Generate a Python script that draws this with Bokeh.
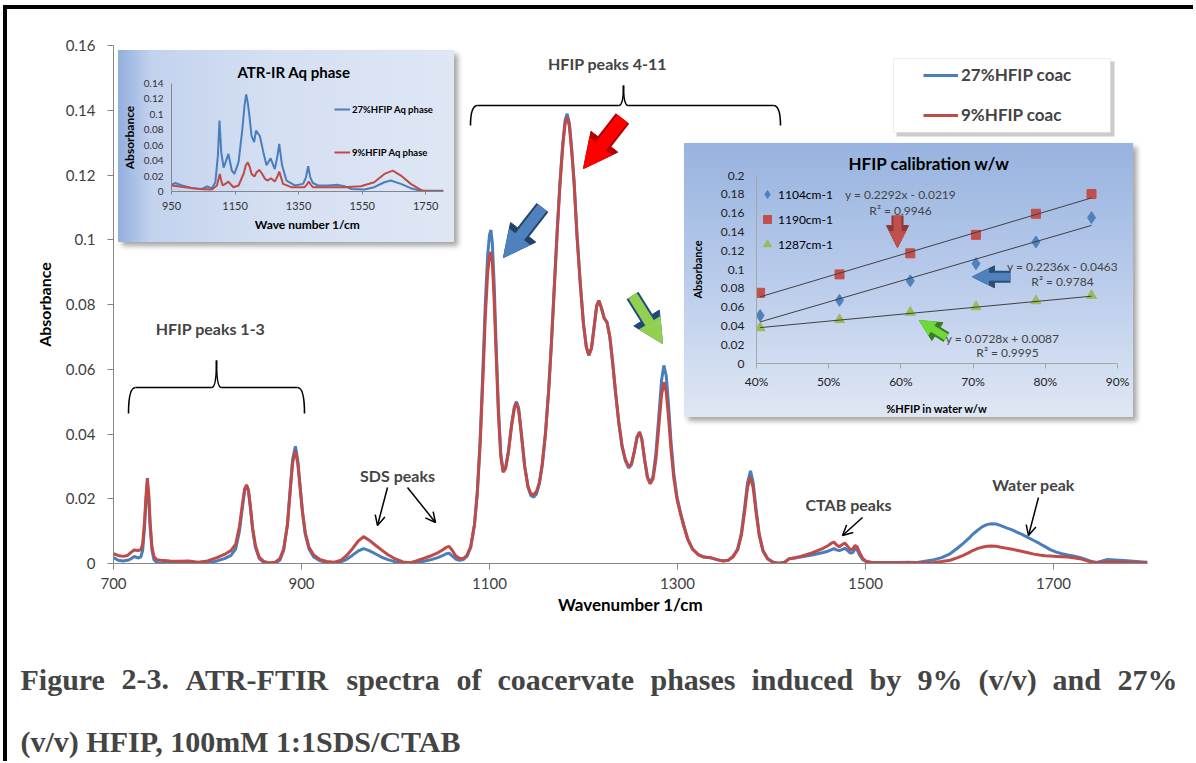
from bokeh.plotting import figure
from bokeh.models import (Range1d, FixedTicker, CustomJSTickFormatter, Legend, LegendItem,
                          Label, Arrow, NormalHead, OpenHead, BoxAnnotation, Div)
from bokeh.embed import file_html
from bokeh.resources import INLINE

FONT = "Lato"
SERIF = "Liberation Serif"

# ---------------- main spectra (coacervate phases) ----------------
wavenumber = [700, 705, 710, 715, 719, 722, 726, 729, 731, 733, 734.5, 736, 737.5, 739, 741, 743, 746, 750,
              760, 770, 780, 790, 800, 810, 818, 825, 830, 834, 837, 839.5, 841.5, 843.5, 845.5, 848, 851,
              855, 860, 866, 872, 877, 881, 885, 888, 890.5, 893.5, 896, 898.5, 901, 904, 908, 913, 920,
              927, 935, 942, 948, 954, 960, 966, 972, 978, 985, 992, 1000, 1008, 1015, 1022, 1030, 1038,
              1045, 1050, 1054, 1057, 1060, 1064, 1068, 1072, 1076, 1080, 1084, 1087, 1090, 1093, 1095.5,
              1098, 1100, 1101.5, 1103, 1105, 1107, 1109.5, 1112, 1114.5, 1117, 1120, 1123.5, 1126.5,
              1128.7, 1131, 1134, 1137.5, 1141, 1144, 1147, 1150, 1153, 1156, 1159.5, 1163, 1166, 1169,
              1172, 1175, 1178, 1180.5, 1182.6, 1185, 1187.5, 1190, 1193, 1196.5, 1200, 1203, 1205.7,
              1208.5, 1211.5, 1214, 1216.3, 1219, 1222, 1225, 1228, 1231, 1234, 1237.5, 1241, 1244.5,
              1248, 1251, 1254, 1257, 1259.6, 1262, 1265, 1268, 1271, 1274, 1277, 1280, 1283, 1285.5,
              1288, 1290.5, 1293, 1296, 1299.5, 1303, 1307, 1311, 1316, 1322, 1328, 1335, 1342, 1348,
              1354, 1359, 1364, 1368, 1371.5, 1374.5, 1377.7, 1380.5, 1383.5, 1387, 1391, 1396, 1402,
              1408, 1414, 1419, 1425, 1431, 1437, 1443, 1449, 1455, 1460, 1464, 1466.5, 1469, 1472,
              1475, 1478, 1481, 1484, 1486.5, 1489, 1491, 1494, 1497, 1501, 1506, 1515, 1525, 1535,
              1545, 1555, 1565, 1573, 1581, 1590, 1598, 1604, 1609, 1614, 1619, 1624, 1629, 1634, 1639,
              1644, 1650, 1656, 1661, 1667, 1673, 1679, 1685, 1691, 1697, 1703, 1709, 1715, 1721, 1728,
              1735, 1741, 1746, 1751, 1757, 1765, 1775, 1785, 1795, 1800]

abs_27_coac = [0.0018, 0.0010, 0.0008, 0.0010, 0.0015, 0.0022, 0.0017, 0.0020, 0.0040, 0.0110, 0.0190,
               0.0250, 0.0200, 0.0110, 0.0040, 0.0012, 0.0003, 0.0001, 0.0000, 0.0001, 0.0000, 0.0000,
               0.0002, 0.0008, 0.0015, 0.0025, 0.0045, 0.0100, 0.0170, 0.0225, 0.0240, 0.0225, 0.0175,
               0.0105, 0.0050, 0.0015, 0.0003, 0.0000, 0.0002, 0.0010, 0.0040, 0.0120, 0.0230, 0.0320,
               0.0362, 0.0320, 0.0240, 0.0160, 0.0090, 0.0045, 0.0020, 0.0008, 0.0003, 0.0002, 0.0005,
               0.0013, 0.0025, 0.0038, 0.0046, 0.0040, 0.0031, 0.0020, 0.0012, 0.0005, 0.0001, 0.0000,
               0.0003, 0.0007, 0.0012, 0.0018, 0.0024, 0.0030, 0.0032, 0.0024, 0.0014, 0.0010, 0.0012,
               0.0022, 0.0050, 0.0120, 0.0220, 0.0380, 0.0600, 0.0800, 0.0950, 0.1015, 0.1030, 0.0990,
               0.0860, 0.0680, 0.0480, 0.0340, 0.0285, 0.0295, 0.0345, 0.0430, 0.0485, 0.0500, 0.0480,
               0.0400, 0.0300, 0.0235, 0.0210, 0.0205, 0.0215, 0.0245, 0.0300, 0.0400, 0.0540, 0.0690,
               0.0860, 0.1030, 0.1180, 0.1300, 0.1370, 0.1389, 0.1360, 0.1280, 0.1180, 0.1020, 0.0870,
               0.0740, 0.0670, 0.0643, 0.0665, 0.0735, 0.0795, 0.0812, 0.0790, 0.0758, 0.0745, 0.0700,
               0.0620, 0.0530, 0.0435, 0.0360, 0.0318, 0.0295, 0.0305, 0.0345, 0.0390, 0.0406, 0.0385,
               0.0320, 0.0265, 0.0248, 0.0270, 0.0340, 0.0450, 0.0565, 0.0612, 0.0580, 0.0490, 0.0380,
               0.0280, 0.0205, 0.0160, 0.0115, 0.0075, 0.0045, 0.0028, 0.0020, 0.0018, 0.0012, 0.0008,
               0.0010, 0.0022, 0.0045, 0.0095, 0.0175, 0.0250, 0.0286, 0.0250, 0.0170, 0.0090, 0.0040,
               0.0015, 0.0004, 0.0001, 0.0004, 0.0015, 0.0017, 0.0020, 0.0023, 0.0026, 0.0030, 0.0034,
               0.0038, 0.0043, 0.0046, 0.0042, 0.0040, 0.0043, 0.0047, 0.0040, 0.0032, 0.0034, 0.0045,
               0.0042, 0.0025, 0.0012, 0.0006, 0.0004, 0.0003, 0.0003, 0.0003, 0.0004, 0.0003, 0.0008,
               0.0012, 0.0018, 0.0030, 0.0048, 0.0062, 0.0075, 0.0090, 0.0102, 0.0113, 0.0120, 0.0123,
               0.0122, 0.0117, 0.0110, 0.0104, 0.0097, 0.0089, 0.0080, 0.0071, 0.0062, 0.0052, 0.0042,
               0.0035, 0.0030, 0.0026, 0.0023, 0.0019, 0.0012, 0.0006, 0.0003, 0.0007, 0.0012, 0.0011,
               0.0009, 0.0007, 0.0005, 0.0004]

abs_9_coac = [0.0030, 0.0025, 0.0022, 0.0025, 0.0035, 0.0042, 0.0040, 0.0042, 0.0060, 0.0130, 0.0205,
              0.0264, 0.0215, 0.0125, 0.0050, 0.0022, 0.0012, 0.0010, 0.0008, 0.0007, 0.0008, 0.0004,
              0.0008, 0.0018, 0.0028, 0.0040, 0.0060, 0.0115, 0.0180, 0.0230, 0.0243, 0.0228, 0.0180,
              0.0110, 0.0055, 0.0020, 0.0006, 0.0002, 0.0004, 0.0015, 0.0045, 0.0118, 0.0225, 0.0310,
              0.0349, 0.0310, 0.0235, 0.0160, 0.0095, 0.0050, 0.0026, 0.0012, 0.0006, 0.0004, 0.0010,
              0.0025, 0.0045, 0.0068, 0.0083, 0.0072, 0.0058, 0.0042, 0.0027, 0.0014, 0.0005, 0.0002,
              0.0008, 0.0016, 0.0024, 0.0033, 0.0042, 0.0050, 0.0053, 0.0042, 0.0024, 0.0016, 0.0015,
              0.0025, 0.0052, 0.0120, 0.0215, 0.0365, 0.0570, 0.0760, 0.0895, 0.0950, 0.0962, 0.0930,
              0.0810, 0.0650, 0.0460, 0.0330, 0.0282, 0.0292, 0.0340, 0.0425, 0.0480, 0.0496, 0.0475,
              0.0395, 0.0298, 0.0238, 0.0215, 0.0213, 0.0222, 0.0250, 0.0305, 0.0400, 0.0535, 0.0685,
              0.0855, 0.1020, 0.1170, 0.1290, 0.1360, 0.1379, 0.1350, 0.1270, 0.1175, 0.1015, 0.0865,
              0.0738, 0.0668, 0.0643, 0.0665, 0.0735, 0.0795, 0.0812, 0.0790, 0.0758, 0.0745, 0.0700,
              0.0622, 0.0532, 0.0438, 0.0365, 0.0322, 0.0299, 0.0308, 0.0345, 0.0390, 0.0406, 0.0385,
              0.0322, 0.0268, 0.0246, 0.0262, 0.0320, 0.0420, 0.0520, 0.0560, 0.0530, 0.0450, 0.0355,
              0.0265, 0.0198, 0.0155, 0.0112, 0.0074, 0.0044, 0.0027, 0.0020, 0.0018, 0.0012, 0.0008,
              0.0010, 0.0020, 0.0042, 0.0088, 0.0162, 0.0235, 0.0267, 0.0234, 0.0160, 0.0085, 0.0038,
              0.0014, 0.0003, 0.0000, 0.0004, 0.0015, 0.0018, 0.0022, 0.0027, 0.0033, 0.0040, 0.0047,
              0.0055, 0.0063, 0.0066, 0.0058, 0.0052, 0.0058, 0.0063, 0.0053, 0.0042, 0.0045, 0.0056,
              0.0052, 0.0032, 0.0016, 0.0006, 0.0003, 0.0002, 0.0002, 0.0002, 0.0002, 0.0002, 0.0002,
              0.0003, 0.0006, 0.0010, 0.0018, 0.0025, 0.0032, 0.0040, 0.0046, 0.0050, 0.0053, 0.0054,
              0.0053, 0.0050, 0.0047, 0.0044, 0.0041, 0.0037, 0.0033, 0.0029, 0.0026, 0.0024, 0.0023,
              0.0022, 0.0021, 0.0020, 0.0018, 0.0015, 0.0009, 0.0004, 0.0003, 0.0003, 0.0005, 0.0005,
              0.0004, 0.0003, 0.0002, 0.0002]

main_x_ticks = [700, 900, 1100, 1300, 1500, 1700]
main_y_ticks = [0, 0.02, 0.04, 0.06, 0.08, 0.1, 0.12, 0.14, 0.16]
series_labels = ["27%HFIP coac", "9%HFIP coac"]

# ---------------- inset 1: aqueous phase ----------------
aq_wn_27 = [950, 962, 983, 1015, 1046, 1062, 1077, 1088, 1096, 1101, 1106.5, 1114, 1122, 1129, 1140,
            1148, 1161, 1173, 1180, 1185, 1190, 1194, 1202, 1210, 1216, 1228, 1239, 1249, 1262, 1275,
            1283, 1289, 1298, 1312, 1338, 1364, 1373, 1380, 1387, 1395, 1411, 1442, 1474, 1494, 1515,
            1557, 1588, 1620, 1640, 1672, 1703, 1734, 1766, 1806]
aq_abs_27 = [0.0085, 0.011, 0.0078, 0.0043, 0.0034, 0.0065, 0.004, 0.012, 0.0465, 0.092, 0.051, 0.031,
             0.040, 0.0487, 0.027, 0.0228, 0.038, 0.081, 0.112, 0.126, 0.115, 0.1025, 0.072, 0.064,
             0.079, 0.072, 0.051, 0.034, 0.043, 0.029, 0.045, 0.0616, 0.034, 0.014, 0.0078, 0.0099,
             0.018, 0.0327, 0.018, 0.011, 0.0078, 0.0078, 0.0086, 0.0069, 0.0034, 0.0026, 0.0056,
             0.012, 0.0142, 0.0099, 0.0043, 0.0009, 0.0009, 0.0009]
aq_wn_9 = [950, 994, 1036, 1077, 1093, 1098, 1102, 1106, 1111, 1122, 1129, 1137, 1145, 1161, 1177, 1184,
           1190, 1196, 1202, 1211, 1218, 1226, 1235, 1244, 1253, 1263, 1275, 1283, 1289, 1295, 1301,
           1327, 1369, 1376, 1382, 1388, 1395, 1442, 1494, 1546, 1588, 1620, 1646, 1672, 1703, 1740,
           1766, 1806]
aq_abs_9 = [0.0078, 0.0056, 0.0034, 0.0026, 0.0078, 0.016, 0.0228, 0.015, 0.0078, 0.0105, 0.0129, 0.009,
            0.0056, 0.0078, 0.023, 0.034, 0.0379, 0.032, 0.0228, 0.0194, 0.025, 0.028, 0.023, 0.0164,
            0.0142, 0.0172, 0.0129, 0.019, 0.0258, 0.018, 0.0099, 0.0056, 0.0056, 0.009, 0.0129, 0.009,
            0.0056, 0.0056, 0.0056, 0.0069, 0.012, 0.0228, 0.027, 0.0207, 0.0099, 0.0009, 0.0, 0.0]
aq_labels = ["27%HFIP Aq phase", "9%HFIP Aq phase"]
aq_x_ticks = [950, 1150, 1350, 1550, 1750]
aq_y_ticks = [0, 0.02, 0.04, 0.06, 0.08, 0.1, 0.12, 0.14]

# ---------------- inset 2: calibration ----------------
hfip_frac = [0.405, 0.515, 0.613, 0.704, 0.787, 0.864]
cal_1104 = [0.051, 0.0672, 0.0879, 0.1062, 0.1293, 0.1552]
cal_1190 = [0.0752, 0.0948, 0.1172, 0.1369, 0.1593, 0.1803]
cal_1287 = [0.0379, 0.0466, 0.0545, 0.0603, 0.0666, 0.0724]
cal_labels = ["1104cm-1", "1190cm-1", "1287cm-1"]
fit_slope = [0.2236, 0.2292, 0.0728]
fit_intercept = [-0.0463, -0.0219, 0.0087]
fit_r2 = [0.9784, 0.9946, 0.9995]
cal_x_ticks = [0.4, 0.5, 0.6, 0.7, 0.8, 0.9]
cal_y_ticks = [0, 0.02, 0.04, 0.06, 0.08, 0.1, 0.12, 0.14, 0.16, 0.18, 0.2]

caption_line1 = ["Figure", "2-3.", "ATR-FTIR", "spectra", "of", "coacervate", "phases", "induced",
                 "by", "9%", "(v/v)", "and", "27%"]
caption_line2 = "(v/v) HFIP, 100mM 1:1SDS/CTAB"

BLUE = "#4A7EBB"
RED = "#BE4B48"
GREEN = "#9BBB59"
AXIS_GRAY = "#868686"


def num_fmt():
    return CustomJSTickFormatter(code="return Number(tick.toFixed(4)).toString();")


def style_axis(ax, size, color="#404040"):
    ax.axis_line_color = AXIS_GRAY
    ax.major_tick_line_color = AXIS_GRAY
    ax.minor_tick_line_color = None
    ax.major_tick_in = 0
    ax.major_label_text_font = FONT
    ax.major_label_text_font_size = size
    ax.major_label_text_color = color
    ax.axis_label_text_font = FONT
    ax.axis_label_text_font_style = "bold"
    ax.axis_label_text_color = "black"


def block_arrow(fig, xs, ys, xe, ye, fill, outline, shaft, head):
    fig.add_layout(Arrow(end=NormalHead(size=head + 6, fill_color=outline, line_color=outline),
                         x_start=xs, y_start=ys, x_end=xe, y_end=ye,
                         line_color=outline, line_width=shaft + 4))
    fig.add_layout(Arrow(end=NormalHead(size=head, fill_color=fill, line_color=fill),
                         x_start=xs, y_start=ys, x_end=xe, y_end=ye,
                         line_color=fill, line_width=shaft))


# ================= main figure =================
p = figure(width=1196, height=763, x_range=Range1d(700, 1800), y_range=Range1d(0, 0.16),
           output_backend="svg", toolbar_location=None,
           min_border_left=113, min_border_right=49, min_border_top=45, min_border_bottom=200)
p.styles = {"position": "absolute", "left": "0px", "top": "0px", "margin": "0px"}
p.outline_line_color = None
p.xgrid.grid_line_color = None
p.ygrid.grid_line_color = None
p.background_fill_color = "white"
p.border_fill_color = "white"

xa = p.xaxis[0]
style_axis(xa, "15px")
xa.ticker = FixedTicker(ticks=main_x_ticks)
xa.major_tick_out = 6
xa.major_label_standoff = 8
xa.axis_label = "Wavenumber 1/cm"
xa.axis_label_text_font_size = "17px"
xa.axis_label_standoff = 2

ya = p.yaxis[0]
style_axis(ya, "15px")
ya.ticker = FixedTicker(ticks=main_y_ticks)
ya.formatter = num_fmt()
ya.major_tick_out = 6
ya.major_label_standoff = 12
ya.axis_label = "Absorbance"
ya.axis_label_text_font_size = "16px"
ya.axis_label_standoff = 9

r27 = p.line(wavenumber, abs_27_coac, line_color=BLUE, line_width=3)
r9 = p.line(wavenumber, abs_9_coac, line_color=RED, line_width=3)


def mx(px):
    return 700 + (px - 113) * 1100 / 1034


def my(py):
    return (563 - py) * 0.16 / 518


# legend box with shadow
p.add_layout(BoxAnnotation(left=mx(896), right=mx(1114), top=my(61), bottom=my(136),
                           fill_color="#b5b5b5", fill_alpha=0.7, line_color=None))
p.add_layout(BoxAnnotation(left=mx(893), right=mx(1110), top=my(58), bottom=my(132),
                           fill_color="white", fill_alpha=1, line_color="#c8c8c8", line_width=1))
legend = Legend(items=[LegendItem(label=series_labels[0], renderers=[r27]),
                       LegendItem(label=series_labels[1], renderers=[r9])],
                location=(810, 438), padding=0, margin=0, spacing=19,
                glyph_width=35, glyph_height=20, label_height=20, label_standoff=3,
                label_text_font=FONT, label_text_font_style="bold", label_text_font_size="17px",
                border_line_color=None, background_fill_alpha=0)
p.add_layout(legend)


# braces
def brace(fig, x0, xm, x1, yb, yh, yt, re, rm):
    kw = dict(line_color="black", line_width=1.6)
    fig.quadratic(x0=[x0], y0=[yb], x1=[x0 + re], y1=[yh], cx=[x0], cy=[yh], **kw)
    fig.segment(x0=[x0 + re], y0=[yh], x1=[xm - rm], y1=[yh], **kw)
    fig.quadratic(x0=[xm - rm], y0=[yh], x1=[xm], y1=[yt], cx=[xm], cy=[yh], **kw)
    fig.quadratic(x0=[xm], y0=[yt], x1=[xm + rm], y1=[yh], cx=[xm], cy=[yh], **kw)
    fig.segment(x0=[xm + rm], y0=[yh], x1=[x1 - re], y1=[yh], **kw)
    fig.quadratic(x0=[x1 - re], y0=[yh], x1=[x1], y1=[yb], cx=[x1], cy=[yh], **kw)


brace(p, mx(128), mx(216), mx(304), my(413), my(387), my(360), 7.5, 5)
brace(p, mx(470), mx(623), mx(780), my(125), my(105), my(85), 7.5, 5)

# text annotations
for txt, px, py in [("HFIP peaks 1-3", 210, 328), ("HFIP peaks 4-11", 607, 63),
                    ("SDS peaks", 397, 475), ("CTAB peaks", 848, 504), ("Water peak", 1033, 484)]:
    p.add_layout(Label(x=mx(px), y=my(py), text=txt, text_font=FONT, text_font_style="bold",
                       text_font_size="16px", text_align="center", text_baseline="middle"))

# thin arrows
for (sx, sy, ex, ey) in [(387, 487, 377, 525), (407, 487, 435, 522), (862, 517, 842, 535),
                         (1038, 497, 1028, 535)]:
    p.add_layout(Arrow(end=OpenHead(size=10, line_width=1.5, line_color="black"),
                       x_start=mx(sx), y_start=my(sy), x_end=mx(ex), y_end=my(ey),
                       line_color="black", line_width=1.5))

block_arrow(p, mx(622), my(118), mx(583), my(168), "#FF0000", "#B00000", 13, 28)
block_arrow(p, mx(542), my(207), mx(503), my(257), "#4F81BD", "#22406A", 11, 26)
block_arrow(p, mx(632), my(295), mx(662), my(343), "#92D050", "#1F497D", 10, 24)

# ================= caption (own transparent canvas) =================
cap = figure(width=1196, height=120, x_range=Range1d(0, 1196), y_range=Range1d(0, 120),
             x_axis_type=None, y_axis_type=None, output_backend="svg", toolbar_location=None,
             min_border=0)
cap.styles = {"position": "absolute", "left": "0px", "top": "643px", "margin": "0px"}
cap.outline_line_color = None
cap.background_fill_color = None
cap.border_fill_color = None
cap.xgrid.grid_line_color = None
cap.ygrid.grid_line_color = None


def cy(py):
    return 763 - py


cap_word_x = [20, 121, 185, 346, 456, 497, 650, 751, 869, 917, 978, 1052, 1117]
for word, px in zip(caption_line1, cap_word_x):
    cap.add_layout(Label(x=px, y=cy(679), text=word, text_font=SERIF, text_font_style="bold",
                         text_font_size="30px", text_align="left", text_baseline="middle"))
cap.add_layout(Label(x=20, y=cy(741), text=caption_line2, text_font=SERIF,
                     text_font_style="bold", text_font_size="30px", text_align="left",
                     text_baseline="middle"))

# ================= inset 1 =================
ins1 = figure(width=336, height=192, x_range=Range1d(950, 1806), y_range=Range1d(0, 0.14),
              output_backend="svg", toolbar_location=None, title="ATR-IR Aq phase",
              min_border_left=51, min_border_right=11, min_border_top=33, min_border_bottom=51)
ins1.styles = {"position": "absolute", "left": "118px", "top": "50px", "margin": "0px",
               "background": "linear-gradient(to right, #93afdd 0%, #c3d2ee 10%, #d4dff2 45%, #dfe7f5 100%)",
               "box-shadow": "4px 4px 5px rgba(0,0,0,0.35)"}
ins1.background_fill_color = None
ins1.border_fill_color = None
ins1.outline_line_color = None
ins1.xgrid.grid_line_color = None
ins1.ygrid.grid_line_color = None
ins1.title.align = "left"
ins1.title.offset = 66
ins1.title.standoff = 6
ins1.title.text_font = FONT
ins1.title.text_font_style = "bold"
ins1.title.text_font_size = "15px"
ins1.title.text_color = "black"

a1x = ins1.xaxis[0]
style_axis(a1x, "11px", "#333333")
a1x.ticker = FixedTicker(ticks=aq_x_ticks)
a1x.major_tick_out = 3
a1x.major_label_standoff = 7
a1x.axis_label = "Wave number 1/cm"
a1x.axis_label_text_font_size = "12px"
a1x.axis_label_standoff = 4
a1y = ins1.yaxis[0]
style_axis(a1y, "10px", "#333333")
a1y.ticker = FixedTicker(ticks=aq_y_ticks)
a1y.formatter = num_fmt()
a1y.major_tick_out = 0
a1y.major_label_standoff = 8
a1y.axis_label = "Absorbance"
a1y.axis_label_text_font_size = "12px"
a1y.axis_label_standoff = 4

q27 = ins1.line(aq_wn_27, aq_abs_27, line_color=BLUE, line_width=2)
q9 = ins1.line(aq_wn_9, aq_abs_9, line_color=RED, line_width=2)
ins1.add_layout(Legend(items=[LegendItem(label=aq_labels[0], renderers=[q27]),
                              LegendItem(label=aq_labels[1], renderers=[q9])],
                       location=(163, 33), padding=0, margin=0, spacing=31,
                       glyph_width=16, glyph_height=12, label_height=12, label_standoff=2,
                       label_text_font=FONT, label_text_font_style="bold", label_text_font_size="9.5px",
                       label_text_color="black",
                       border_line_color=None, background_fill_alpha=0))

# ================= inset 2 =================
ins2 = figure(width=449, height=274, x_range=Range1d(0.4, 0.9), y_range=Range1d(0, 0.2),
              output_backend="svg", toolbar_location=None, title="HFIP calibration w/w",
              min_border_left=72, min_border_right=16, min_border_top=32, min_border_bottom=49)
ins2.styles = {"position": "absolute", "left": "684px", "top": "143px", "margin": "0px",
               "background": "linear-gradient(to bottom, #97b3df 0%, #b6c9ea 45%, #dfe7f4 100%)",
               "box-shadow": "4px 4px 5px rgba(0,0,0,0.35)"}
ins2.background_fill_color = None
ins2.border_fill_color = None
ins2.outline_line_color = None
ins2.xgrid.grid_line_color = None
ins2.ygrid.grid_line_color = None
ins2.title.align = "left"
ins2.title.offset = 92
ins2.title.standoff = 3
ins2.title.text_font = FONT
ins2.title.text_font_style = "bold"
ins2.title.text_font_size = "17px"
ins2.title.text_color = "black"

a2x = ins2.xaxis[0]
style_axis(a2x, "12px", "#222222")
a2x.axis_line_color = "#a6a6a6"
a2x.major_tick_line_color = "#a6a6a6"
a2x.ticker = FixedTicker(ticks=cal_x_ticks)
a2x.formatter = CustomJSTickFormatter(code="return Math.round(tick * 100) + '%';")
a2x.major_tick_out = 5
a2x.major_label_standoff = 5
a2x.axis_label = "%HFIP in water w/w"
a2x.axis_label_text_font_size = "11px"
a2x.axis_label_standoff = 10
a2y = ins2.yaxis[0]
style_axis(a2y, "12px", "#222222")
a2y.axis_line_color = "#a6a6a6"
a2y.major_tick_line_color = "#a6a6a6"
a2y.ticker = FixedTicker(ticks=cal_y_ticks)
a2y.formatter = num_fmt()
a2y.major_tick_out = 0
a2y.major_label_standoff = 12
a2y.axis_label = "Absorbance"
a2y.axis_label_text_font_size = "11px"
a2y.axis_label_standoff = 14

s1104 = ins2.scatter(hfip_frac, cal_1104, marker="diamond", size=12, fill_color="#4F81BD",
                     line_color="#4F81BD")
s1190 = ins2.scatter(hfip_frac, cal_1190, marker="square", size=9, fill_color="#C0504D",
                     line_color="#C0504D")
s1287 = ins2.scatter(hfip_frac, cal_1287, marker="triangle", size=10, fill_color=GREEN,
                     line_color=GREEN)
x_lo, x_hi = min(hfip_frac), max(hfip_frac)
ins2.segment(x0=[x_lo] * 3, y0=[m * x_lo + b for m, b in zip(fit_slope, fit_intercept)],
             x1=[x_hi] * 3, y1=[m * x_hi + b for m, b in zip(fit_slope, fit_intercept)],
             line_color="#404040", line_width=1)
ins2.add_layout(Legend(items=[LegendItem(label=cal_labels[0], renderers=[s1104]),
                              LegendItem(label=cal_labels[1], renderers=[s1190]),
                              LegendItem(label=cal_labels[2], renderers=[s1287])],
                       location=(1, 108), padding=0, margin=0, spacing=3,
                       glyph_width=20, glyph_height=22, label_height=22, label_standoff=1,
                       label_text_font=FONT, label_text_font_size="12px", label_text_color="black",
                       border_line_color=None, background_fill_alpha=0))


def i2x(px):
    return 0.4 + (px - 756) * 0.5 / 361


def i2y(py):
    return (368 - py) * 0.2 / 193


block_arrow(ins2, i2x(897), i2y(216), i2x(897), i2y(249), "#C0504D", "#8C3836", 8, 16)
block_arrow(ins2, i2x(1010), i2y(279), i2x(972), i2y(279), "#4F81BD", "#2C4D75", 8, 16)
block_arrow(ins2, i2x(946), i2y(341), i2x(919), i2y(324), "#6FD93A", "#3A7D22", 7, 15)


def eq_text(m, b):
    sign = "+" if b >= 0 else "-"
    return "y = %.4fx %s %.4f" % (m, sign, abs(b))


eq_pos = [((1062, 268), (1062, 284)), ((900, 195), (900, 211)), ((1002, 342), (1007, 357))]
for (m, b, r2, (pe, pr)) in zip(fit_slope, fit_intercept, fit_r2, eq_pos):
    ins2.add_layout(Label(x=i2x(pe[0]), y=i2y(pe[1]), text=eq_text(m, b), text_font=FONT,
                          text_font_size="12px", text_align="center", text_baseline="middle"))
    ins2.add_layout(Label(x=i2x(pr[0]), y=i2y(pr[1]), text="R² = %.4f" % r2, text_font=FONT,
                          text_font_size="12px", text_align="center", text_baseline="middle"))

# ================= page border =================
border_left = Div(text="", styles={"position": "absolute", "left": "3px", "top": "5px", "margin": "0px",
                                   "padding": "0px", "width": "4px", "height": "756px",
                                   "background-color": "black"})
border_top = Div(text="", styles={"position": "absolute", "left": "3px", "top": "5px", "margin": "0px",
                                  "padding": "0px", "width": "1190px", "height": "4px",
                                  "background-color": "black"})

html = file_html([p, cap, ins1, ins2, border_left, border_top], INLINE, title="ATR-FTIR spectra")
open("out.html", "w").write(html)
